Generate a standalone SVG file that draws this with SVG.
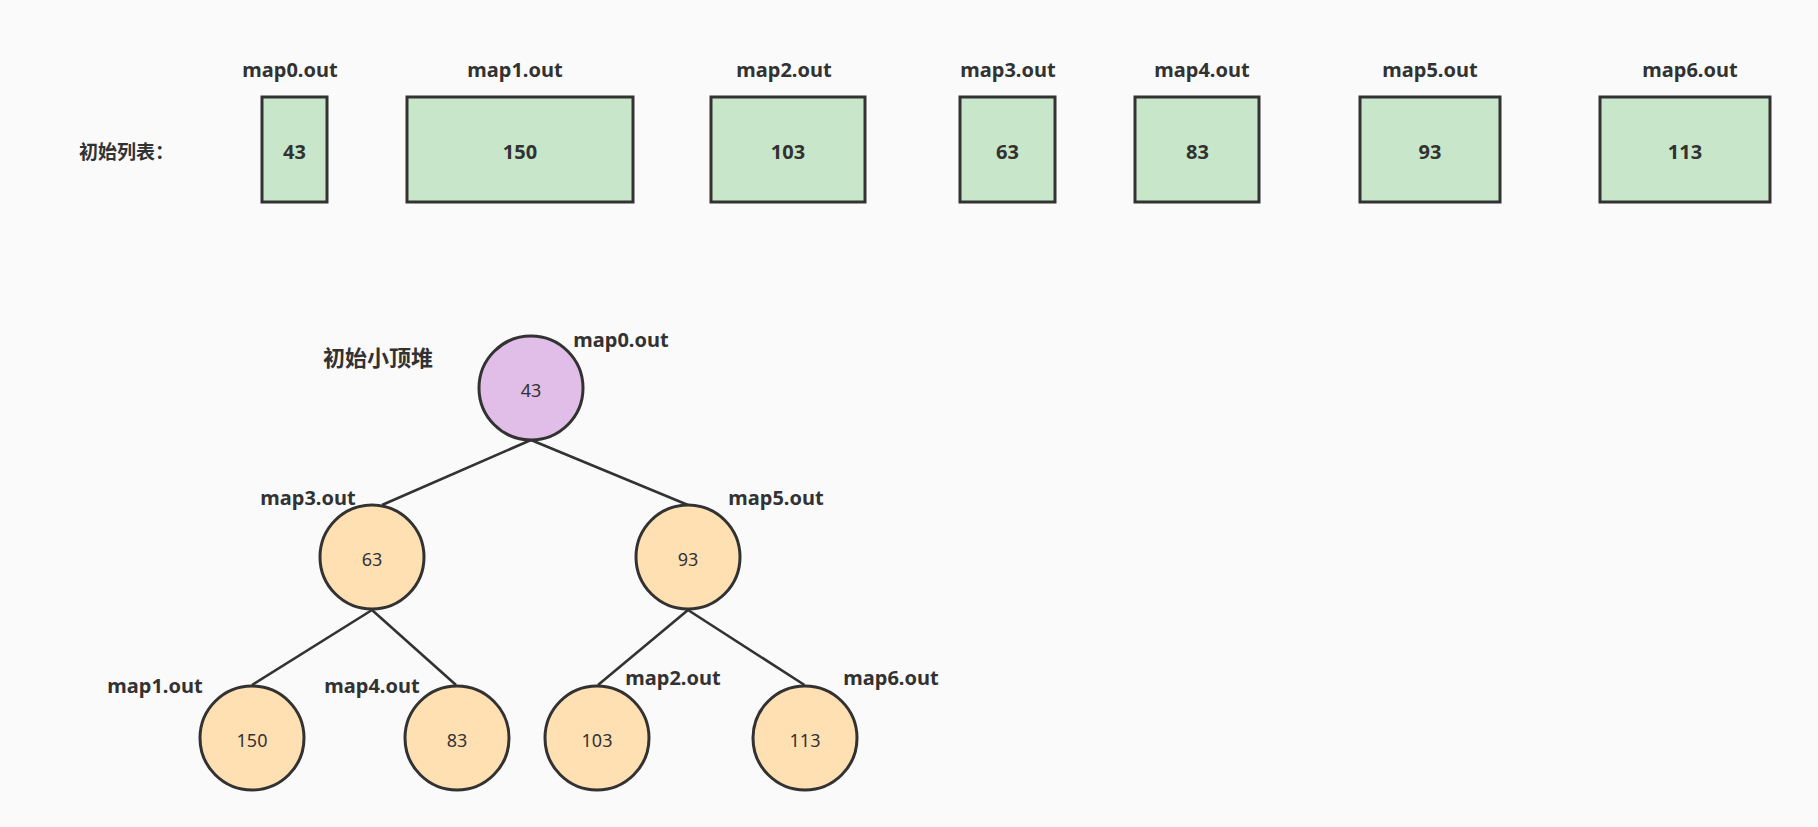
<svg xmlns="http://www.w3.org/2000/svg" width="1818" height="827" viewBox="0 0 1818 827">
<style>
text{font-family:"Noto Sans","Noto Sans CJK SC",sans-serif;fill:#323232}
.lbl{font-size:20px;font-weight:bold;text-anchor:middle}
.num{font-size:20px;font-weight:bold;text-anchor:middle}
.cn{font-size:18px;text-anchor:middle}
.box{fill:#C8E6C9;stroke:#323232;stroke-width:3}
.leaf{fill:#FFE0B2;stroke:#323232;stroke-width:3}
.root{fill:#E1BEE7;stroke:#323232;stroke-width:3}
.edge{stroke:#323232;stroke-width:2.6;fill:none}
</style>
<rect width="1818" height="827" fill="#FAFAFA"/>
<text x="79" y="159" style="font-size:19px;font-weight:bold">初始列表：</text>
<g id="list0"><rect class="box" x="262" y="97" width="65" height="105"/><text class="lbl" x="290" y="77">map0.out</text><text class="num" x="294.5" y="159">43</text></g>
<g id="list1"><rect class="box" x="407" y="97" width="226" height="105"/><text class="lbl" x="515" y="77">map1.out</text><text class="num" x="520" y="159">150</text></g>
<g id="list2"><rect class="box" x="711" y="97" width="154" height="105"/><text class="lbl" x="784" y="77">map2.out</text><text class="num" x="788" y="159">103</text></g>
<g id="list3"><rect class="box" x="960" y="97" width="95" height="105"/><text class="lbl" x="1008" y="77">map3.out</text><text class="num" x="1007.5" y="159">63</text></g>
<g id="list4"><rect class="box" x="1135" y="97" width="124" height="105"/><text class="lbl" x="1202" y="77">map4.out</text><text class="num" x="1197.5" y="159">83</text></g>
<g id="list5"><rect class="box" x="1360" y="97" width="140" height="105"/><text class="lbl" x="1430" y="77">map5.out</text><text class="num" x="1430" y="159">93</text></g>
<g id="list6"><rect class="box" x="1600" y="97" width="170" height="105"/><text class="lbl" x="1690" y="77">map6.out</text><text class="num" x="1685" y="159">113</text></g>
<text x="323" y="366" style="font-size:22px;font-weight:bold">初始小顶堆</text>
<g id="edges">
<line class="edge" x1="531" y1="440" x2="382" y2="505"/>
<line class="edge" x1="531" y1="440" x2="688" y2="505"/>
<line class="edge" x1="372" y1="610" x2="252" y2="685"/>
<line class="edge" x1="372" y1="610" x2="456" y2="685"/>
<line class="edge" x1="688" y1="610" x2="598" y2="685"/>
<line class="edge" x1="688" y1="610" x2="804.5" y2="685"/>
</g>
<g id="h0"><circle class="root" cx="531" cy="388" r="52"/><text class="cn" x="531" y="397">43</text><text class="lbl" x="621" y="347">map0.out</text></g>
<g id="h3"><circle class="leaf" cx="372" cy="557" r="52"/><text class="cn" x="372" y="566">63</text><text class="lbl" x="308" y="505">map3.out</text></g>
<g id="h5"><circle class="leaf" cx="688" cy="557" r="52"/><text class="cn" x="688" y="566">93</text><text class="lbl" x="776" y="505">map5.out</text></g>
<g id="h1"><circle class="leaf" cx="252" cy="738" r="52"/><text class="cn" x="252" y="747">150</text><text class="lbl" x="155" y="693">map1.out</text></g>
<g id="h4"><circle class="leaf" cx="457" cy="738" r="52"/><text class="cn" x="457" y="747">83</text><text class="lbl" x="372" y="693">map4.out</text></g>
<g id="h2"><circle class="leaf" cx="597" cy="738" r="52"/><text class="cn" x="597" y="747">103</text><text class="lbl" x="673" y="685">map2.out</text></g>
<g id="h6"><circle class="leaf" cx="805" cy="738" r="52"/><text class="cn" x="805" y="747">113</text><text class="lbl" x="891" y="685">map6.out</text></g>
</svg>
